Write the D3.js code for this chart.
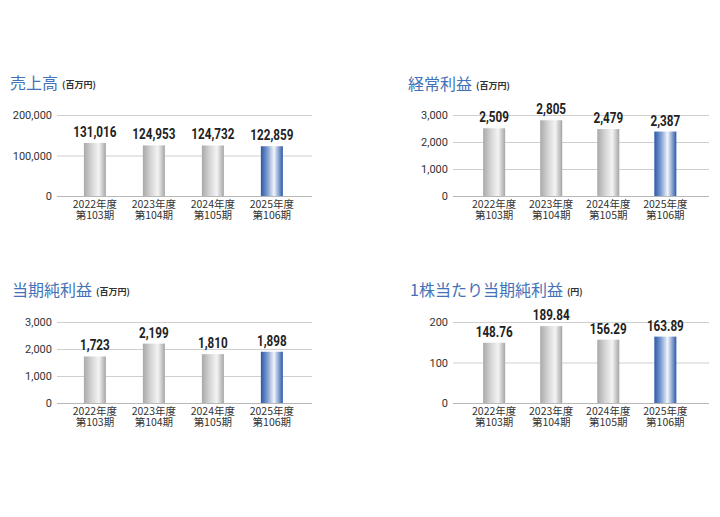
<!DOCTYPE html>
<html>
<head>
<meta charset="utf-8">
<script src="https://cdn.jsdelivr.net/npm/d3@7"></script>
<style>
  body { margin: 0; background: #fff; }
  svg text { font-family: "Noto Sans CJK JP", "Noto Sans", sans-serif; }
  .tick-label { font-family: Roboto, "Liberation Sans", sans-serif !important; font-size: 11px; fill: #333; }
  .cat-label { font-size: 10.5px; fill: #333; }
  .value-label { font-family: Roboto, "Liberation Sans", sans-serif !important; font-weight: bold; font-size: 15px; fill: #222; }
  .title { font-size: 16px; fill: #4272b8; }
  .unit { font-size: 9px; font-weight: bold; fill: #333; }
</style>
</head>
<body>
<div id="chart"></div>
<script>
// categories
const years = ['2022年度', '2023年度', '2024年度', '2025年度'];
const periods = ['第103期', '第104期', '第105期', '第106期'];

// series values
const salesValues = [131016, 124953, 124732, 122859];
const ordinaryValues = [2509, 2805, 2479, 2387];
const netValues = [1723, 2199, 1810, 1898];
const epsValues = [148.76, 189.84, 156.29, 163.89];

// value labels
const salesLabels = ['131,016', '124,953', '124,732', '122,859'];
const ordinaryLabels = ['2,509', '2,805', '2,479', '2,387'];
const netLabels = ['1,723', '2,199', '1,810', '1,898'];
const epsLabels = ['148.76', '189.84', '156.29', '163.89'];

// tick values
const salesTicks = [0, 100000, 200000];
const thousandTicks = [0, 1000, 2000, 3000];
const epsTicks = [0, 100, 200];

const svg = d3.select('#chart').append('svg')
    .attr('width', 720)
    .attr('height', 517);

// gradients for bars
const defs = svg.append('defs');
const grayGrad = defs.append('linearGradient').attr('id', 'gray-grad');
[[0, '#a9a9a9'], [0.35, '#d4d4d4'], [0.68, '#f4f4f4'], [1, '#a5a5a5']].forEach(s =>
    grayGrad.append('stop').attr('offset', s[0]).attr('stop-color', s[1]));
const blueGrad = defs.append('linearGradient').attr('id', 'blue-grad');
[[0, '#2a58a8'], [0.3, '#7f9dd0'], [0.6, '#f2f5fb'], [1, '#2c5aa8']].forEach(s =>
    blueGrad.append('stop').attr('offset', s[0]).attr('stop-color', s[1]));

function drawChart(cfg) {
    const g = svg.append('g').attr('transform', `translate(${cfg.x},${cfg.y})`);

    // title
    const title = g.append('text')
        .attr('x', cfg.titleX)
        .attr('y', cfg.titleY);
    title.append('tspan').attr('class', 'title').text(cfg.title);
    title.append('tspan').attr('class', 'unit').attr('dx', 4).attr('dy', -1).text(cfg.unit);

    const xScale = d3.scaleBand()
        .domain(years)
        .range([cfg.left, cfg.right])
        .paddingInner(cfg.padInner)
        .paddingOuter(cfg.padOuter)
        .align(cfg.align);

    const yScale = d3.scaleLinear()
        .domain([0, cfg.ticks[cfg.ticks.length - 1]])
        .range([cfg.bottom, cfg.top]);

    // gridlines
    const yAxis = d3.axisLeft(yScale)
        .tickValues(cfg.ticks)
        .tickSize(-(cfg.right - cfg.left))
        .tickPadding(5)
        .tickFormat(d3.format(','));

    const yAxisG = g.append('g')
        .attr('transform', `translate(${cfg.left},0)`)
        .call(yAxis)
        .call(a => a.select('.domain').remove());
    yAxisG.selectAll('.tick line')
        .attr('stroke', d => d === 0 ? '#b8b8b8' : '#cfcfcf');
    yAxisG.selectAll('.tick text')
        .attr('class', 'tick-label')
        .attr('dy', '0.36em');

    const cx = i => xScale(years[i]) + xScale.bandwidth() / 2;

    // bars
    g.selectAll('.bar')
        .data(cfg.values)
        .join('rect')
        .attr('class', 'bar')
        .attr('x', (d, i) => xScale(years[i]))
        .attr('width', xScale.bandwidth())
        .attr('y', d => yScale(d))
        .attr('height', d => cfg.bottom - yScale(d))
        .attr('fill', (d, i) => i === 3 ? 'url(#blue-grad)' : 'url(#gray-grad)');

    // value labels (condensed look)
    g.selectAll('.value-label')
        .data(cfg.values)
        .join('text')
        .attr('class', 'value-label')
        .attr('text-anchor', 'middle')
        .attr('transform', (d, i) => `translate(${cx(i)},${yScale(d) - 6}) scale(0.78,1)`)
        .text((d, i) => cfg.labels[i]);

    // category labels, two lines
    g.selectAll('.cat-year')
        .data(years)
        .join('text')
        .attr('class', 'cat-label cat-year')
        .attr('text-anchor', 'middle')
        .attr('x', (d, i) => cx(i))
        .attr('y', cfg.bottom + 12)
        .text(d => d);
    g.selectAll('.cat-period')
        .data(periods)
        .join('text')
        .attr('class', 'cat-label cat-period')
        .attr('text-anchor', 'middle')
        .attr('x', (d, i) => cx(i))
        .attr('y', cfg.bottom + 23)
        .text(d => d);
}

drawChart({ x: 0, y: 0, title: '売上高', unit: '(百万円)', titleX: 10, titleY: 89,
    left: 57, right: 312, top: 115, bottom: 196, padInner: 0.627, padOuter: 0.475, align: 0.48,
    values: salesValues, labels: salesLabels, ticks: salesTicks });

drawChart({ x: 396, y: 0, title: '経常利益', unit: '(百万円)', titleX: 12, titleY: 90,
    left: 57, right: 313, top: 115, bottom: 196, padInner: 0.614, padOuter: 0.55, align: 0.48,
    values: ordinaryValues, labels: ordinaryLabels, ticks: thousandTicks });

drawChart({ x: 0, y: 207, title: '当期純利益', unit: '(百万円)', titleX: 12, titleY: 89,
    left: 57, right: 312, top: 115, bottom: 196, padInner: 0.627, padOuter: 0.475, align: 0.48,
    values: netValues, labels: netLabels, ticks: thousandTicks });

drawChart({ x: 396, y: 207, title: '1株当たり当期純利益', unit: '(円)', titleX: 14, titleY: 89,
    left: 57, right: 313, top: 115, bottom: 196, padInner: 0.614, padOuter: 0.55, align: 0.48,
    values: epsValues, labels: epsLabels, ticks: epsTicks });
</script>
</body>
</html>
